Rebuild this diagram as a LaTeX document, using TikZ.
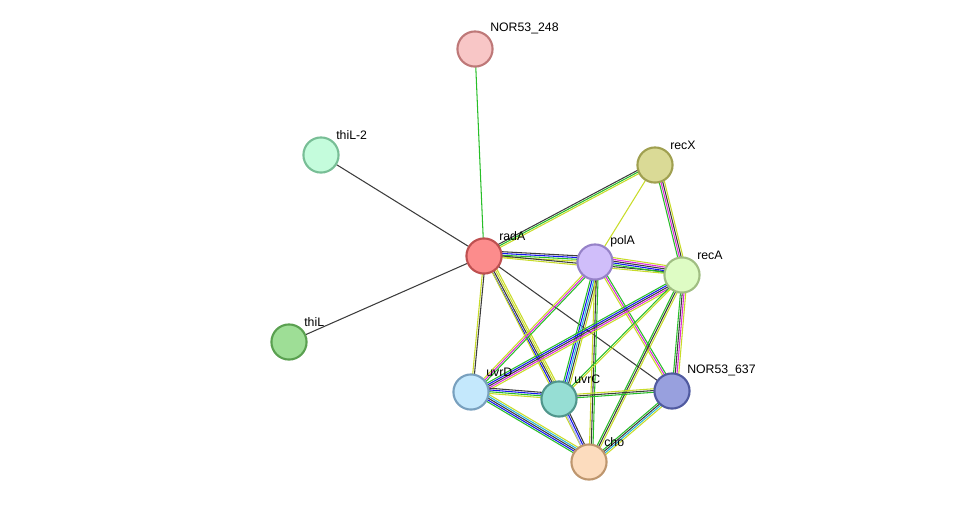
\documentclass[tikz,border=0pt]{standalone}
\usepackage{fontspec}
\setmainfont{Liberation Sans}
\usetikzlibrary{calc}
\definecolor{tm}{RGB}{200,220,40}
\definecolor{nb}{RGB}{40,190,40}
\definecolor{ex}{RGB}{220,40,220}
\definecolor{co}{RGB}{20,20,240}
\definecolor{db}{RGB}{40,180,220}
\definecolor{hm}{RGB}{170,170,240}
\definecolor{ce}{RGB}{60,60,60}
\tikzset{
    prot/.style={circle,draw,line width=1.2pt,minimum size=20pt,inner sep=0pt},
    lab/.style={font=\scriptsize,anchor=south west,inner sep=1pt},
    link/.style={line width=0.6pt}
}
% multi-coloured link: offsets perpendicular to the line
\newcommand{\plink}[3]{%
    \foreach \c [count=\i] in {#3}
        {%
            \pgfmathsetmacro{\off}{(\i-1)*1.0}
            \draw[link,\c] ($(#1)!\off pt!90:(#2)$) -- ($(#2)!\off pt!-90:(#1)$);
        }
}
\begin{document}
\begin{tikzpicture}[x=0.02cm,y=-0.02cm]
    \useasboundingbox (0,0) rectangle (975,508);
    %positions
    \coordinate (p248) at (475,49);
    \coordinate (pthiL2) at (321,155);
    \coordinate (precX) at (655,165);
    \coordinate (pradA) at (484,256);
    \coordinate (ppolA) at (595,262);
    \coordinate (precA) at (682,275);
    \coordinate (pthiL) at (289,342);
    \coordinate (puvrD) at (471,392);
    \coordinate (puvrC) at (559,399);
    \coordinate (p637) at (672,391);
    \coordinate (pcho) at (589,462);
    %draw links
    \plink{pradA}{p248}{nb}
    \plink{pradA}{pthiL2}{ce}
    \plink{pradA}{pthiL}{ce}
    \plink{pradA}{precX}{tm,nb,ce}
    \plink{pradA}{ppolA}{tm,nb,co,ce}
    \plink{pradA}{precA}{tm,ce}
    \plink{pradA}{puvrD}{tm,ce}
    \plink{pradA}{puvrC}{co,ce,tm,tm}
    \plink{pradA}{pcho}{tm}
    \plink{pradA}{p637}{ce}
    \plink{precX}{ppolA}{tm}
    \plink{precX}{precA}{nb,ex,ce,tm}
    \plink{ppolA}{precA}{nb,co,ce,ex,tm}
    \plink{ppolA}{puvrD}{tm,ex,nb}
    \plink{ppolA}{puvrC}{nb,co,db,ce,tm}
    \plink{ppolA}{pcho}{tm,ce,nb}
    \plink{ppolA}{p637}{tm,ex,nb}
    \plink{precA}{puvrD}{nb,co,ce,ex,tm}
    \plink{precA}{puvrC}{nb,tm}
    \plink{precA}{pcho}{nb,ce,tm}
    \plink{precA}{p637}{nb,ce,ex,tm}
    \plink{puvrD}{puvrC}{tm,nb,co,ce}
    \plink{puvrD}{pcho}{nb,co,ce,db,tm}
    \plink{puvrC}{pcho}{hm,co,ce}
    \plink{puvrC}{p637}{nb,ce,tm}
    \plink{p637}{pcho}{nb,ce,db,tm}
    %draw proteins
    \node[prot,fill={rgb,255:red,248;green,198;blue,198},draw={rgb,255:red,190;green,120;blue,120}] (n248) at (p248) {};
    \node[prot,fill={rgb,255:red,196;green,252;blue,220},draw={rgb,255:red,120;green,190;blue,150}] (thiL2) at (pthiL2) {};
    \node[prot,fill={rgb,255:red,218;green,218;blue,150},draw={rgb,255:red,160;green,160;blue,80}] (recX) at (precX) {};
    \node[prot,fill={rgb,255:red,252;green,140;blue,140},draw={rgb,255:red,190;green,80;blue,80}] (radA) at (pradA) {};
    \node[prot,fill={rgb,255:red,208;green,190;blue,250},draw={rgb,255:red,150;green,130;blue,200}] (polA) at (ppolA) {};
    \node[prot,fill={rgb,255:red,222;green,252;blue,196},draw={rgb,255:red,160;green,190;blue,130}] (recA) at (precA) {};
    \node[prot,fill={rgb,255:red,158;green,222;blue,150},draw={rgb,255:red,90;green,160;blue,80}] (thiL) at (pthiL) {};
    \node[prot,fill={rgb,255:red,196;green,232;blue,252},draw={rgb,255:red,120;green,160;blue,190}] (uvrD) at (puvrD) {};
    \node[prot,fill={rgb,255:red,150;green,222;blue,212},draw={rgb,255:red,80;green,150;blue,140}] (uvrC) at (puvrC) {};
    \node[prot,fill={rgb,255:red,152;green,160;blue,222},draw={rgb,255:red,80;green,90;blue,160}] (n637) at (p637) {};
    \node[prot,fill={rgb,255:red,252;green,220;blue,190},draw={rgb,255:red,190;green,150;blue,110}] (cho) at (pcho) {};
    %draw labels
    \node[lab] at (n248.north east) {NOR53\_248};
    \node[lab] at (thiL2.north east) {thiL-2};
    \node[lab] at (recX.north east) {recX};
    \node[lab] at (radA.north east) {radA};
    \node[lab] at (polA.north east) {polA};
    \node[lab] at (recA.north east) {recA};
    \node[lab] at (thiL.north east) {thiL};
    \node[lab] at (uvrD.north east) {uvrD};
    \node[lab] at (uvrC.north east) {uvrC};
    \node[lab] at (n637.north east) {NOR53\_637};
    \node[lab] at (cho.north east) {cho};
\end{tikzpicture}
\end{document}
